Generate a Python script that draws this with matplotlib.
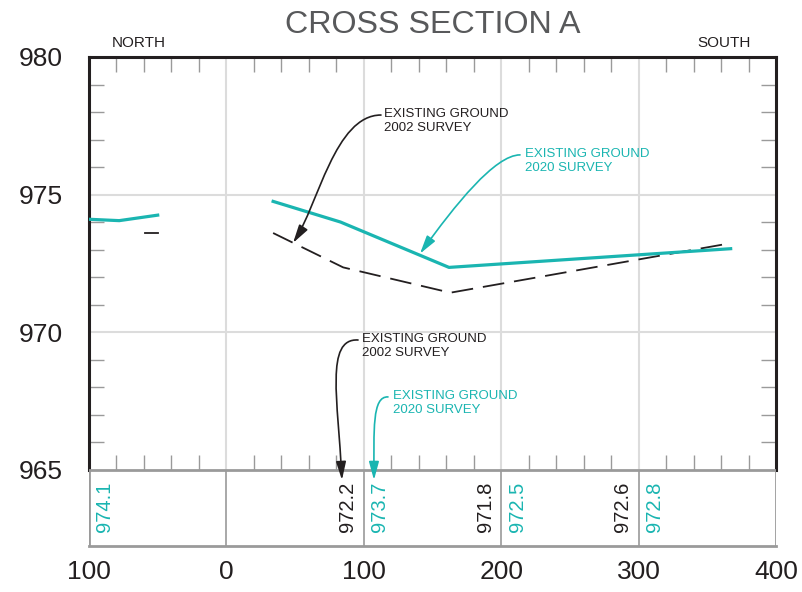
import matplotlib
matplotlib.use("Agg")
import matplotlib.pyplot as plt
from matplotlib.patches import FancyArrowPatch
from matplotlib.path import Path
import matplotlib.transforms as mtransforms

plt.rcParams['font.family'] = ['Liberation Sans', 'DejaVu Sans']

# ---------------- data ----------------
north_2020_x = [-100, -78, -50]
north_2020_y = [974.1, 974.05, 974.25]
north_2002_x = [-59, -50]
north_2002_y = [973.6, 973.6]

main_2020_x = [34, 83, 162, 367]
main_2020_y = [974.75, 974.0, 972.35, 973.03]
main_2002_x = [34, 85, 163, 367]
main_2002_y = [973.6, 972.35, 971.43, 973.23]

label_stations_2020 = [-100, 100, 200, 300]
label_values_2020 = ["974.1", "973.7", "972.5", "972.8"]
label_stations_2002 = [100, 200, 300]
label_values_2002 = ["972.2", "971.8", "972.6"]

x_tick_pos = [-100, 0, 100, 200, 300, 400]
x_tick_labels = ["100", "0", "100", "200", "300", "400"]
y_tick_pos = [965, 970, 975, 980]
grid_x = [0, 100, 200, 300]
grid_y = [970, 975]

title = "CROSS SECTION A"
TEAL = "#1ab5b1"
DARK = "#231f20"
GRID = "#dcdcdc"
TBL = "#9a9a9a"

# ---------------- figure ----------------
fig = plt.figure(figsize=(8.03, 5.92), dpi=100)
L, R, T, B = 89 / 803, 776 / 803, 1 - 57 / 592, 1 - 546 / 592
ax = fig.add_axes([L, B, R - L, T - B])
ymin, ymax = 962.22, 980
ax.set_xlim(-100, 400)
ax.set_ylim(ymin, ymax)

# spines
for s in ['left', 'right', 'top']:
    ax.spines[s].set_color(DARK)
    ax.spines[s].set_linewidth(2.2)
ax.spines['left'].set_bounds(965, 980)
ax.spines['right'].set_bounds(965, 980)
ax.spines['bottom'].set_color(TBL)
ax.spines['bottom'].set_linewidth(2)

# table box
ax.plot([-100, -100], [ymin, 965], color=TBL, lw=2, solid_capstyle='butt', zorder=3)
ax.plot([400, 400], [ymin, 965], color=TBL, lw=2, solid_capstyle='butt', zorder=3)
ax.axhline(965, color=TBL, lw=2, zorder=3)
ax.vlines(grid_x, ymin, 965, color=TBL, lw=1.2, zorder=2)

# grid
ax.vlines(grid_x, 965, 980, color=GRID, lw=1.5, zorder=1)
ax.hlines(grid_y, -100, 400, color=GRID, lw=1.5, zorder=1)

# ticks
minor_x = [v for v in range(-80, 400, 20) if v % 100 != 0]
minor_y = [v for v in range(966, 980) if v % 5 != 0]
ax.set_xticks(x_tick_pos)
ax.set_xticklabels(x_tick_labels)
ax.set_yticks(y_tick_pos)
ax.set_yticks(minor_y, minor=True)
ax.set_xticks(minor_x, minor=True)
ax.tick_params(axis='both', which='major', length=0, labelsize=19, colors=DARK)
ax.tick_params(axis='x', which='major', pad=10)
ax.tick_params(axis='y', which='major', pad=19)
ax.tick_params(axis='x', which='minor', direction='in', length=11, width=1,
               color=TBL, top=True, bottom=False)
ax.tick_params(axis='y', which='minor', direction='in', length=11, width=1,
               color=TBL, left=True, right=True)
# ticks on the 965 line
ax.vlines(minor_x, 965, 965 + 15 / 27.5, color=TBL, lw=1, zorder=2)

# lines
ax.plot(north_2020_x, north_2020_y, color=TEAL, lw=2.3, zorder=5)
ax.plot(main_2020_x, main_2020_y, color=TEAL, lw=2.3, zorder=5)
ax.plot(north_2002_x, north_2002_y, color=DARK, lw=1.3, zorder=4)
ax.plot(main_2002_x, main_2002_y, color=DARK, lw=1.3, ls=(0, (12, 5.5)), zorder=4)

# table labels
lab_y = 964.55
for xs, v in zip(label_stations_2020, label_values_2020):
    ax.text(xs + 11.5, lab_y, v, rotation=90, ha='center', va='top',
            fontsize=14.5, color=TEAL)
for xs, v in zip(label_stations_2002, label_values_2002):
    ax.text(xs - 11.5, lab_y, v, rotation=90, ha='center', va='top',
            fontsize=14.5, color=DARK)

# annotations
def curved_arrow(pts, color):
    path = Path(pts, [Path.MOVETO, Path.CURVE4, Path.CURVE4, Path.CURVE4])
    arr = FancyArrowPatch(path=path, arrowstyle="-|>,head_length=1.1,head_width=0.3",
                          mutation_scale=10, color=color, lw=1.2, zorder=6,
                          transform=ax.transData)
    ax.add_patch(arr)

def note(x, y, txt, color):
    ax.text(x, y, txt, fontsize=9.5, color=color, ha='left', va='top',
            linespacing=1.25)

curved_arrow([(112.5, 977.89), (79, 977.89), (66.7, 974.62), (48.5, 973.24)], DARK)
curved_arrow([(213.7, 976.44), (195.5, 976.44), (166.4, 974.62), (140.9, 972.85)], TEAL)
curved_arrow([(95.8, 969.71), (71.8, 969.78), (81.2, 967.53), (84.1, 964.62)], DARK)
curved_arrow([(117.6, 967.64), (106.0, 967.67), (107.4, 966.44), (107.4, 964.62)], TEAL)

note(115.0, 978.15, "EXISTING GROUND\n2002 SURVEY", DARK)
note(217.0, 976.70, "EXISTING GROUND\n2020 SURVEY", TEAL)
note(99.0, 969.97, "EXISTING GROUND\n2002 SURVEY", DARK)
note(121.5, 967.90, "EXISTING GROUND\n2020 SURVEY", TEAL)

# NORTH / SOUTH
trans = mtransforms.blended_transform_factory(ax.transData, ax.transAxes)
ax.text(-63.6, 1 + 14 / 489, "NORTH", transform=trans, ha='center', va='center',
        fontsize=11, color=DARK)
ax.text(362.5, 1 + 14 / 489, "SOUTH", transform=trans, ha='center', va='center',
        fontsize=11, color=DARK)

fig.text(432.5 / 803, 1 - 25 / 592, title, ha='center', va='center',
         fontsize=23.2, color="#58595b")

fig.savefig("out.png", dpi=100)
